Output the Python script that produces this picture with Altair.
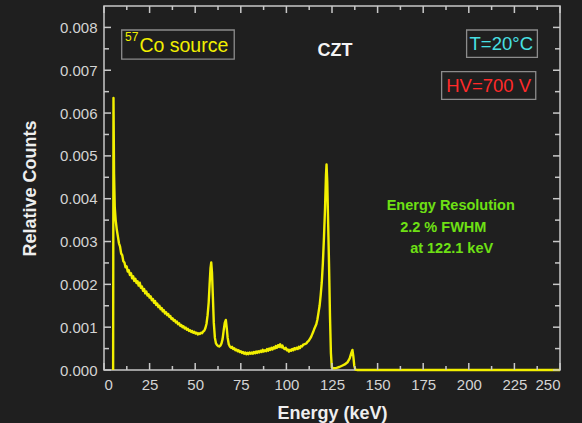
import altair as alt
import pandas as pd

# Pulse-height spectrum of a 57Co source measured with a CZT detector
energy_kev = [
    5.0, 5.2, 5.5, 5.9, 6.4, 7.0, 7.6, 8.2, 8.8, 9.4,
    10.0, 10.6, 11.2, 11.8, 12.4, 13.0, 13.6, 14.2, 14.8, 15.4,
    16.0, 16.6, 17.2, 17.8, 18.4, 19.0, 19.6, 20.2, 20.8, 21.4,
    22.0, 22.6, 23.2, 23.8, 24.4, 25.0, 25.6, 26.2, 26.8, 27.4,
    28.0, 28.6, 29.2, 29.8, 30.4, 31.0, 31.6, 32.2, 32.8, 33.4,
    34.0, 34.6, 35.2, 35.8, 36.4, 37.0, 37.6, 38.2, 38.8, 39.4,
    40.0, 40.6, 41.2, 41.8, 42.4, 43.0, 43.6, 44.2, 44.8, 45.4,
    46.0, 46.6, 47.2, 47.8, 48.4, 49.0, 49.6, 50.2, 50.8, 51.4,
    52.0, 52.6, 53.2, 53.8, 54.4, 55.0, 55.6, 56.2, 56.8, 57.4,
    57.9, 58.4, 58.8, 59.2, 59.7, 60.2, 60.8, 61.4, 62.0, 62.6,
    63.2, 63.8, 64.4, 65.0, 65.6, 66.2, 66.8, 67.3, 67.8, 68.4,
    69.0, 69.6, 70.2, 70.8, 71.4, 72.0, 72.6, 73.2, 73.8, 74.4,
    75.0, 75.6, 76.2, 76.8, 77.4, 78.0, 78.6, 79.2, 79.8, 80.4,
    81.0, 81.6, 82.2, 82.8, 83.4, 84.0, 84.6, 85.2, 85.8, 86.4,
    87.0, 87.6, 88.2, 88.8, 89.4, 90.0, 90.6, 91.2, 91.8, 92.4,
    93.0, 93.6, 94.2, 94.8, 95.4, 96.0, 96.6, 97.2, 97.8, 98.4,
    99.0, 99.6, 100.2, 100.8, 101.4, 102.0, 102.6, 103.2, 103.8, 104.4,
    105.0, 105.6, 106.2, 106.8, 107.4, 108.0, 108.6, 109.2, 109.8, 110.4,
    111.0, 111.6, 112.2, 112.8, 113.4, 114.0, 114.6, 115.2, 115.8, 116.4,
    117.0, 117.6, 118.2, 118.8, 119.4, 120.0, 120.6, 121.2, 121.7, 122.0,
    122.4, 122.9, 123.4, 123.9, 124.4, 124.9, 126.0, 127.5, 129.0, 130.5,
    132.0, 133.5, 134.7, 135.6, 136.2, 136.7, 137.2, 137.8, 139.0, 250.0,
]
relative_counts = [
    0.0, 0.00635, 0.0046, 0.0038, 0.0035, 0.00328, 0.00312, 0.00296, 0.00288, 0.00272,
    0.00268, 0.00254, 0.00251, 0.00240, 0.00242, 0.00230, 0.00233, 0.00222, 0.00226, 0.00214,
    0.00219, 0.00208, 0.00213, 0.00203, 0.00207, 0.00197, 0.00204, 0.00192, 0.00195, 0.00185,
    0.00189, 0.00179, 0.00183, 0.00174, 0.00177, 0.00169, 0.00172, 0.00163, 0.00166, 0.00157,
    0.00161, 0.00152, 0.00155, 0.00147, 0.00150, 0.00142, 0.00145, 0.00137, 0.00140, 0.00132,
    0.00135, 0.00128, 0.00131, 0.00124, 0.00126, 0.00119, 0.00121, 0.00115, 0.00117, 0.00111,
    0.00113, 0.00107, 0.00109, 0.00103, 0.00105, 0.00100, 0.00102, 0.00097, 0.00099, 0.00094,
    0.00096, 0.00091, 0.00093, 0.00089, 0.00091, 0.00087, 0.00089, 0.00085, 0.00087, 0.00083,
    0.00086, 0.00084, 0.00087, 0.00086, 0.00090, 0.00092, 0.00098, 0.00108, 0.00128, 0.00158,
    0.00200, 0.00238, 0.00251, 0.00228, 0.00170, 0.00110, 0.00075, 0.00062, 0.00058, 0.00056,
    0.00055, 0.00057, 0.00062, 0.00072, 0.00092, 0.00110, 0.00117, 0.00098, 0.00075, 0.00060,
    0.00055, 0.00052, 0.00054, 0.00049, 0.00051, 0.00046, 0.00048, 0.00044, 0.00046, 0.00042,
    0.00044, 0.00040, 0.00042, 0.00038, 0.00041, 0.00037, 0.00040, 0.00037, 0.00041, 0.00038,
    0.00041, 0.00038, 0.00042, 0.00039, 0.00043, 0.00040, 0.00044, 0.00041, 0.00045, 0.00042,
    0.00047, 0.00043, 0.00046, 0.00044, 0.00049, 0.00045, 0.00050, 0.00047, 0.00052, 0.00048,
    0.00053, 0.00050, 0.00056, 0.00052, 0.00058, 0.00054, 0.00060, 0.00053, 0.00057, 0.00051,
    0.00049, 0.00052, 0.00046, 0.00048, 0.00043, 0.00047, 0.00045, 0.00049, 0.00046, 0.00051,
    0.00048, 0.00052, 0.00049, 0.00054, 0.00051, 0.00056, 0.00055, 0.00059, 0.00060, 0.00061,
    0.00062, 0.00066, 0.00068, 0.00072, 0.00076, 0.00082, 0.00088, 0.00095, 0.00101, 0.00107,
    0.00118, 0.00134, 0.00150, 0.00175, 0.00205, 0.00250, 0.00310, 0.00380, 0.00455, 0.00480,
    0.00440, 0.00340, 0.00240, 0.00125, 0.00040, 0.00006, 0.00004, 0.00005, 0.00007, 0.00010,
    0.00013, 0.00018, 0.00027, 0.00040, 0.00047, 0.00032, 0.00010, 0.00001, 0.0, 0.0,
]

# Axis tick positions (labelled majors and unlabelled minors)
x_major = [0, 25, 50, 75, 100, 125, 150, 175, 200, 225, 250]
x_minor = [12.5, 37.5, 62.5, 87.5, 112.5, 137.5, 162.5, 187.5, 212.5, 237.5]
y_major = [0.0, 0.001, 0.002, 0.003, 0.004, 0.005, 0.006, 0.007, 0.008]
y_minor = [0.0005, 0.0015, 0.0025, 0.0035, 0.0045, 0.0055, 0.0065, 0.0075]

W, H = 456, 364
FONT = "Liberation Sans"
FRAME = "#c8c8c8"
YELLOW = "#f2ef00"

x_scale = alt.Scale(domain=[0, 250], nice=False, zero=False)
y_scale = alt.Scale(domain=[0, 0.0085], nice=False)
x_axis = alt.Axis(title="Energy (keV)", values=x_major, format="d")
y_axis = alt.Axis(title="Relative Counts", values=y_major, format=".3f")


def X(field="energy"):
    return alt.X(f"{field}:Q", scale=x_scale, axis=x_axis)


def Y(field="counts"):
    return alt.Y(f"{field}:Q", scale=y_scale, axis=y_axis)


spectrum_df = pd.DataFrame({"energy": energy_kev, "counts": relative_counts})

spectrum = alt.Chart(spectrum_df).mark_line(
    color=YELLOW, strokeWidth=2.4, strokeJoin="round"
).encode(x=X(), y=Y())


def x_ticks(values, length, at_top):
    df = pd.DataFrame({"energy": values})
    y0 = 0 if at_top else H
    y1 = length if at_top else H - length
    return alt.Chart(df).mark_rule(color=FRAME, strokeWidth=1.5).encode(
        x=X(), y=alt.value(y0), y2=alt.value(y1),
    )


def y_ticks(values, length, at_right):
    df = pd.DataFrame({"counts": values})
    x0 = W if at_right else 0
    x1 = W - length if at_right else length
    return alt.Chart(df).mark_rule(color=FRAME, strokeWidth=1.5).encode(
        y=Y(), x=alt.value(x0), x2=alt.value(x1),
    )


ticks = [
    x_ticks(x_major, 7, False), x_ticks(x_minor, 4, False),
    x_ticks(x_major, 7, True), x_ticks(x_minor, 4, True),
    y_ticks(y_major, 7, False), y_ticks(y_minor, 5, False),
    y_ticks(y_major, 7, True), y_ticks(y_minor, 5, True),
]

# Framed labels in the upper part of the plot
box_df = pd.DataFrame({
    "energy": [9.7, 198.8, 185.1],
    "energy_end": [71.4, 237.6, 236.7],
    "counts": [0.00794, 0.00794, 0.006966],
    "counts_end": [0.00726, 0.007302, 0.006321],
})
boxes = alt.Chart(box_df).mark_rect(
    fillOpacity=0, stroke="#8c8c8c", strokeWidth=1.3
).encode(x=X(), x2="energy_end:Q", y=Y(), y2="counts_end:Q")


def label(text, energy, counts, color, size, weight="normal", align="left"):
    df = pd.DataFrame({"energy": [energy], "counts": [counts], "text": [text]})
    return alt.Chart(df).mark_text(
        color=color, font=FONT, fontSize=size, fontWeight=weight,
        align=align, baseline="alphabetic",
    ).encode(x=X(), y=Y(), text="text:N")


GREEN = "#6ee014"
labels = [
    label("57", 11.5, 0.007683, YELLOW, 12),
    label("Co source", 19.4, 0.007419, YELLOW, 19.5),
    label("CZT", 126.6, 0.007332, "#f4f4f4", 18, "bold", "center"),
    label("T=20°C", 217.8, 0.007473, "#48e0e4", 18.5, "normal", "center"),
    label("HV=700 V", 210.9, 0.006499, "#ff2a2a", 18.5, "normal", "center"),
    label("Energy Resolution", 190.1, 0.003736, GREEN, 14.5, "bold", "center"),
    label("2.2 % FWHM", 186.0, 0.003230, GREEN, 14.5, "bold", "center"),
    label("at 122.1 keV", 190.6, 0.002732, GREEN, 14.5, "bold", "center"),
]

chart = alt.layer(spectrum, boxes, *labels, *ticks).properties(
    width=W,
    height=H,
    autosize="none",
    padding={"left": 104, "top": 6, "right": 22, "bottom": 53},
    background="#1f1f1f",
).configure_view(
    stroke=FRAME, strokeWidth=1.5,
).configure_axis(
    domain=False, ticks=False, grid=False,
    labelFont=FONT, labelFontSize=15, labelColor="#d4d4d4", labelPadding=7,
    titleFont=FONT, titleFontSize=18, titleFontWeight="bold", titleColor="#eeeeee",
).configure_axisX(
    titlePadding=12,
).configure_axisY(
    titlePadding=20,
)

chart.save("out.html", embed_options={"renderer": "svg", "actions": False})
